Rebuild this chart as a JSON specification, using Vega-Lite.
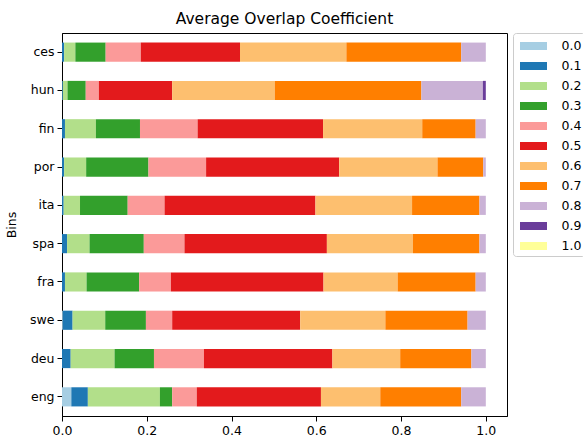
{
  "$schema": "https://vega.github.io/schema/vega-lite/v6.json",
  "width": 445,
  "height": 383,
  "autosize": "none",
  "padding": {"left": 62, "top": 33, "right": 76, "bottom": 20},
  "background": "white",
  "config": {
    "font": "DejaVu Sans",
    "view": {"stroke": "black", "strokeWidth": 1},
    "axis": {"grid": false, "domainColor": "black", "tickColor": "black", "labelColor": "black", "titleColor": "black", "labelFontSize": 12.5, "titleFontSize": 12.5, "titleFontWeight": "normal", "tickSize": 5, "labelPadding": 3, "labelFlush": false}
  },
  "title": {"text": "Average Overlap Coefficient", "fontSize": 15.5, "fontWeight": "normal", "color": "black", "offset": 5, "font": "DejaVu Sans"},
  "data": {"values": [
    {"lang": "ces", "bin": "0.1", "value": 0.005},
    {"lang": "ces", "bin": "0.2", "value": 0.0265},
    {"lang": "ces", "bin": "0.3", "value": 0.0715},
    {"lang": "ces", "bin": "0.4", "value": 0.083},
    {"lang": "ces", "bin": "0.5", "value": 0.234},
    {"lang": "ces", "bin": "0.6", "value": 0.251},
    {"lang": "ces", "bin": "0.7", "value": 0.271},
    {"lang": "ces", "bin": "0.8", "value": 0.058},
    {"lang": "hun", "bin": "0.1", "value": 0.002},
    {"lang": "hun", "bin": "0.2", "value": 0.011},
    {"lang": "hun", "bin": "0.3", "value": 0.043},
    {"lang": "hun", "bin": "0.4", "value": 0.031},
    {"lang": "hun", "bin": "0.5", "value": 0.173},
    {"lang": "hun", "bin": "0.6", "value": 0.242},
    {"lang": "hun", "bin": "0.7", "value": 0.346},
    {"lang": "hun", "bin": "0.8", "value": 0.145},
    {"lang": "hun", "bin": "0.9", "value": 0.007},
    {"lang": "fin", "bin": "0.1", "value": 0.007},
    {"lang": "fin", "bin": "0.2", "value": 0.073},
    {"lang": "fin", "bin": "0.3", "value": 0.104},
    {"lang": "fin", "bin": "0.4", "value": 0.136},
    {"lang": "fin", "bin": "0.5", "value": 0.296},
    {"lang": "fin", "bin": "0.6", "value": 0.234},
    {"lang": "fin", "bin": "0.7", "value": 0.126},
    {"lang": "fin", "bin": "0.8", "value": 0.024},
    {"lang": "por", "bin": "0.1", "value": 0.005},
    {"lang": "por", "bin": "0.2", "value": 0.052},
    {"lang": "por", "bin": "0.3", "value": 0.147},
    {"lang": "por", "bin": "0.4", "value": 0.136},
    {"lang": "por", "bin": "0.5", "value": 0.314},
    {"lang": "por", "bin": "0.6", "value": 0.232},
    {"lang": "por", "bin": "0.7", "value": 0.108},
    {"lang": "por", "bin": "0.8", "value": 0.006},
    {"lang": "ita", "bin": "0.1", "value": 0.004},
    {"lang": "ita", "bin": "0.2", "value": 0.0385},
    {"lang": "ita", "bin": "0.3", "value": 0.1125},
    {"lang": "ita", "bin": "0.4", "value": 0.087},
    {"lang": "ita", "bin": "0.5", "value": 0.356},
    {"lang": "ita", "bin": "0.6", "value": 0.228},
    {"lang": "ita", "bin": "0.7", "value": 0.159},
    {"lang": "ita", "bin": "0.8", "value": 0.015},
    {"lang": "spa", "bin": "0.1", "value": 0.012},
    {"lang": "spa", "bin": "0.2", "value": 0.053},
    {"lang": "spa", "bin": "0.3", "value": 0.128},
    {"lang": "spa", "bin": "0.4", "value": 0.096},
    {"lang": "spa", "bin": "0.5", "value": 0.336},
    {"lang": "spa", "bin": "0.6", "value": 0.203},
    {"lang": "spa", "bin": "0.7", "value": 0.157},
    {"lang": "spa", "bin": "0.8", "value": 0.015},
    {"lang": "fra", "bin": "0.1", "value": 0.007},
    {"lang": "fra", "bin": "0.2", "value": 0.051},
    {"lang": "fra", "bin": "0.3", "value": 0.124},
    {"lang": "fra", "bin": "0.4", "value": 0.075},
    {"lang": "fra", "bin": "0.5", "value": 0.360},
    {"lang": "fra", "bin": "0.6", "value": 0.175},
    {"lang": "fra", "bin": "0.7", "value": 0.184},
    {"lang": "fra", "bin": "0.8", "value": 0.024},
    {"lang": "swe", "bin": "0.0", "value": 0.002},
    {"lang": "swe", "bin": "0.1", "value": 0.023},
    {"lang": "swe", "bin": "0.2", "value": 0.077},
    {"lang": "swe", "bin": "0.3", "value": 0.096},
    {"lang": "swe", "bin": "0.4", "value": 0.062},
    {"lang": "swe", "bin": "0.5", "value": 0.302},
    {"lang": "swe", "bin": "0.6", "value": 0.201},
    {"lang": "swe", "bin": "0.7", "value": 0.194},
    {"lang": "swe", "bin": "0.8", "value": 0.043},
    {"lang": "deu", "bin": "0.1", "value": 0.0205},
    {"lang": "deu", "bin": "0.2", "value": 0.1035},
    {"lang": "deu", "bin": "0.3", "value": 0.093},
    {"lang": "deu", "bin": "0.4", "value": 0.118},
    {"lang": "deu", "bin": "0.5", "value": 0.303},
    {"lang": "deu", "bin": "0.6", "value": 0.160},
    {"lang": "deu", "bin": "0.7", "value": 0.168},
    {"lang": "deu", "bin": "0.8", "value": 0.034},
    {"lang": "eng", "bin": "0.0", "value": 0.022},
    {"lang": "eng", "bin": "0.1", "value": 0.039},
    {"lang": "eng", "bin": "0.2", "value": 0.170},
    {"lang": "eng", "bin": "0.3", "value": 0.029},
    {"lang": "eng", "bin": "0.4", "value": 0.058},
    {"lang": "eng", "bin": "0.5", "value": 0.293},
    {"lang": "eng", "bin": "0.6", "value": 0.140},
    {"lang": "eng", "bin": "0.7", "value": 0.191},
    {"lang": "eng", "bin": "0.8", "value": 0.058}
  ]},
  "mark": {"type": "bar"},
  "encoding": {
    "y": {
      "field": "lang", "type": "nominal",
      "sort": ["ces", "hun", "fin", "por", "ita", "spa", "fra", "swe", "deu", "eng"],
      "scale": {"paddingInner": 0.5, "paddingOuter": 0.25},
      "axis": {"title": "Bins", "titlePadding": 11}
    },
    "x": {
      "field": "value", "type": "quantitative", "stack": "zero",
      "scale": {"domain": [0, 1.05], "nice": false, "zero": true},
      "axis": {"values": [0, 0.2, 0.4, 0.6, 0.8, 1.0], "format": ".1f", "title": null, "labelPadding": 3}
    },
    "color": {
      "field": "bin", "type": "nominal",
      "scale": {
        "domain": ["0.0", "0.1", "0.2", "0.3", "0.4", "0.5", "0.6", "0.7", "0.8", "0.9", "1.0"],
        "range": ["#a6cee3", "#1f78b4", "#b2df8a", "#33a02c", "#fb9a99", "#e31a1c", "#fdbf6f", "#ff7f00", "#cab2d6", "#6a3d9a", "#ffff99"]
      },
      "legend": {
        "title": null, "orient": "none", "legendX": 451, "legendY": 0,
        "symbolType": "M-1.35,-0.4H1.35V0.4H-1.35Z", "symbolSize": 400, "symbolStrokeWidth": 0,
        "symbolOffset": 7.5,
        "labelFontSize": 12.5, "labelColor": "black", "rowPadding": 3,
        "padding": 3, "strokeColor": "#cccccc", "cornerRadius": 3, "fillColor": "white",
        "labelOffset": 18
      }
    },
    "order": {"field": "bin", "type": "ordinal", "sort": "ascending"}
  }
}
